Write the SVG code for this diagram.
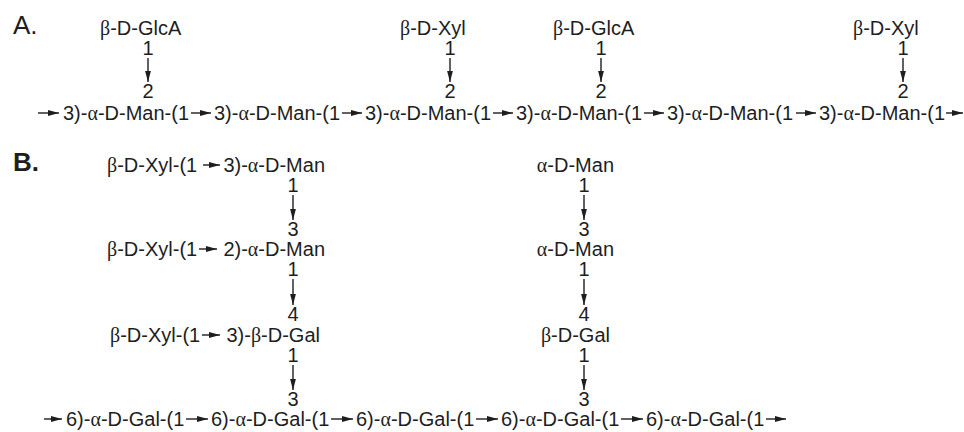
<svg xmlns="http://www.w3.org/2000/svg" width="964" height="432" viewBox="0 0 964 432">
<style>
text{font-family:"Liberation Sans",Arial,sans-serif;font-size:20px;fill:#1e1e1e}
.g{font-family:"Liberation Serif","Times New Roman",serif}
.lbl{font-size:26px}
.bold{font-weight:bold}
.n{text-anchor:middle}
.e{text-anchor:end}
#connectors line{stroke:#1e1e1e;stroke-width:1.4;marker-end:url(#ah)}
</style>
<defs>
<marker id="ah" markerUnits="userSpaceOnUse" markerWidth="11" markerHeight="7" refX="11" refY="3.5" orient="auto"><path d="M0,0.6 L11,3.5 L0,6.4z" fill="#1e1e1e"/></marker>
</defs>
<rect width="964" height="432" fill="#fff"/>

<g id="panelA">
<text class="lbl" x="13" y="34">A.</text>
<g id="a-side1"><text x="100" y="35"><tspan class="g">β</tspan>-D-GlcA</text><text class="n" x="148" y="55">1</text><text class="n" x="148" y="98">2</text></g>
<g id="a-side2"><text x="400" y="35"><tspan class="g">β</tspan>-D-Xyl</text><text class="n" x="450" y="55">1</text><text class="n" x="450" y="98">2</text></g>
<g id="a-side3"><text x="553" y="35"><tspan class="g">β</tspan>-D-GlcA</text><text class="n" x="601" y="55">1</text><text class="n" x="601" y="98">2</text></g>
<g id="a-side4"><text x="853" y="35"><tspan class="g">β</tspan>-D-Xyl</text><text class="n" x="903" y="55">1</text><text class="n" x="903" y="98">2</text></g>
<g id="a-man1"><text x="63" y="120">3)-<tspan class="g">α</tspan>-D-Man-(1</text></g>
<g id="a-man2"><text x="214" y="120">3)-<tspan class="g">α</tspan>-D-Man-(1</text></g>
<g id="a-man3"><text x="365" y="120">3)-<tspan class="g">α</tspan>-D-Man-(1</text></g>
<g id="a-man4"><text x="516" y="120">3)-<tspan class="g">α</tspan>-D-Man-(1</text></g>
<g id="a-man5"><text x="667" y="120">3)-<tspan class="g">α</tspan>-D-Man-(1</text></g>
<g id="a-man6"><text x="819" y="120">3)-<tspan class="g">α</tspan>-D-Man-(1</text></g>
</g>

<g id="panelB">
<text class="lbl bold" x="13" y="171">B.</text>
<g id="b-xyl1"><text x="107" y="172"><tspan class="g">β</tspan>-D-Xyl-(1</text></g>
<g id="b-man1"><text class="e" x="325" y="172">3)-<tspan class="g">α</tspan>-D-Man</text><text class="n" x="293" y="192">1</text></g>
<g id="b-xyl2"><text x="107" y="256"><tspan class="g">β</tspan>-D-Xyl-(1</text></g>
<g id="b-man2"><text class="n" x="293" y="236">3</text><text class="e" x="325" y="256">2)-<tspan class="g">α</tspan>-D-Man</text><text class="n" x="293" y="276">1</text></g>
<g id="b-xyl3"><text x="110" y="342"><tspan class="g">β</tspan>-D-Xyl-(1</text></g>
<g id="b-gal1"><text class="n" x="293" y="321">4</text><text class="e" x="320" y="342">3)-<tspan class="g">β</tspan>-D-Gal</text><text class="n" x="293" y="362">1</text></g>
<g id="b-man3"><text class="e" x="614" y="172"><tspan class="g">α</tspan>-D-Man</text><text class="n" x="584" y="192">1</text></g>
<g id="b-man4"><text class="n" x="584" y="236">3</text><text class="e" x="614" y="256"><tspan class="g">α</tspan>-D-Man</text><text class="n" x="584" y="276">1</text></g>
<g id="b-gal2"><text class="n" x="584" y="321">4</text><text class="e" x="610" y="342"><tspan class="g">β</tspan>-D-Gal</text><text class="n" x="584" y="362">1</text></g>
<g id="b-gal3"><text x="66" y="426">6)-<tspan class="g">α</tspan>-D-Gal-(1</text></g>
<g id="b-gal4"><text class="n" x="293" y="406">3</text><text x="211" y="426">6)-<tspan class="g">α</tspan>-D-Gal-(1</text></g>
<g id="b-gal5"><text x="356" y="426">6)-<tspan class="g">α</tspan>-D-Gal-(1</text></g>
<g id="b-gal6"><text class="n" x="584" y="406">3</text><text x="501" y="426">6)-<tspan class="g">α</tspan>-D-Gal-(1</text></g>
<g id="b-gal7"><text x="646" y="426">6)-<tspan class="g">α</tspan>-D-Gal-(1</text></g>
</g>

<g id="connectors">
<line x1="38" y1="113" x2="59" y2="113"/>
<line x1="191" y1="113" x2="211" y2="113"/>
<line x1="342" y1="113" x2="362" y2="113"/>
<line x1="493" y1="113" x2="513" y2="113"/>
<line x1="644" y1="113" x2="664" y2="113"/>
<line x1="796" y1="113" x2="816" y2="113"/>
<line x1="946" y1="113" x2="963" y2="113"/>
<line x1="148" y1="58" x2="148" y2="82"/>
<line x1="450" y1="58" x2="450" y2="82"/>
<line x1="601" y1="58" x2="601" y2="82"/>
<line x1="903" y1="58" x2="903" y2="82"/>
<line x1="203" y1="165" x2="220" y2="165"/>
<line x1="199" y1="249" x2="217" y2="249"/>
<line x1="202" y1="335" x2="220" y2="335"/>
<line x1="293" y1="195" x2="293" y2="220"/>
<line x1="293" y1="279" x2="293" y2="305"/>
<line x1="293" y1="365" x2="293" y2="390"/>
<line x1="584" y1="195" x2="584" y2="220"/>
<line x1="584" y1="279" x2="584" y2="305"/>
<line x1="584" y1="365" x2="584" y2="390"/>
<line x1="44" y1="419" x2="62" y2="419"/>
<line x1="186" y1="419" x2="208" y2="419"/>
<line x1="331" y1="419" x2="353" y2="419"/>
<line x1="476" y1="419" x2="498" y2="419"/>
<line x1="621" y1="419" x2="643" y2="419"/>
<line x1="766" y1="419" x2="786" y2="419"/>
</g>
</svg>
